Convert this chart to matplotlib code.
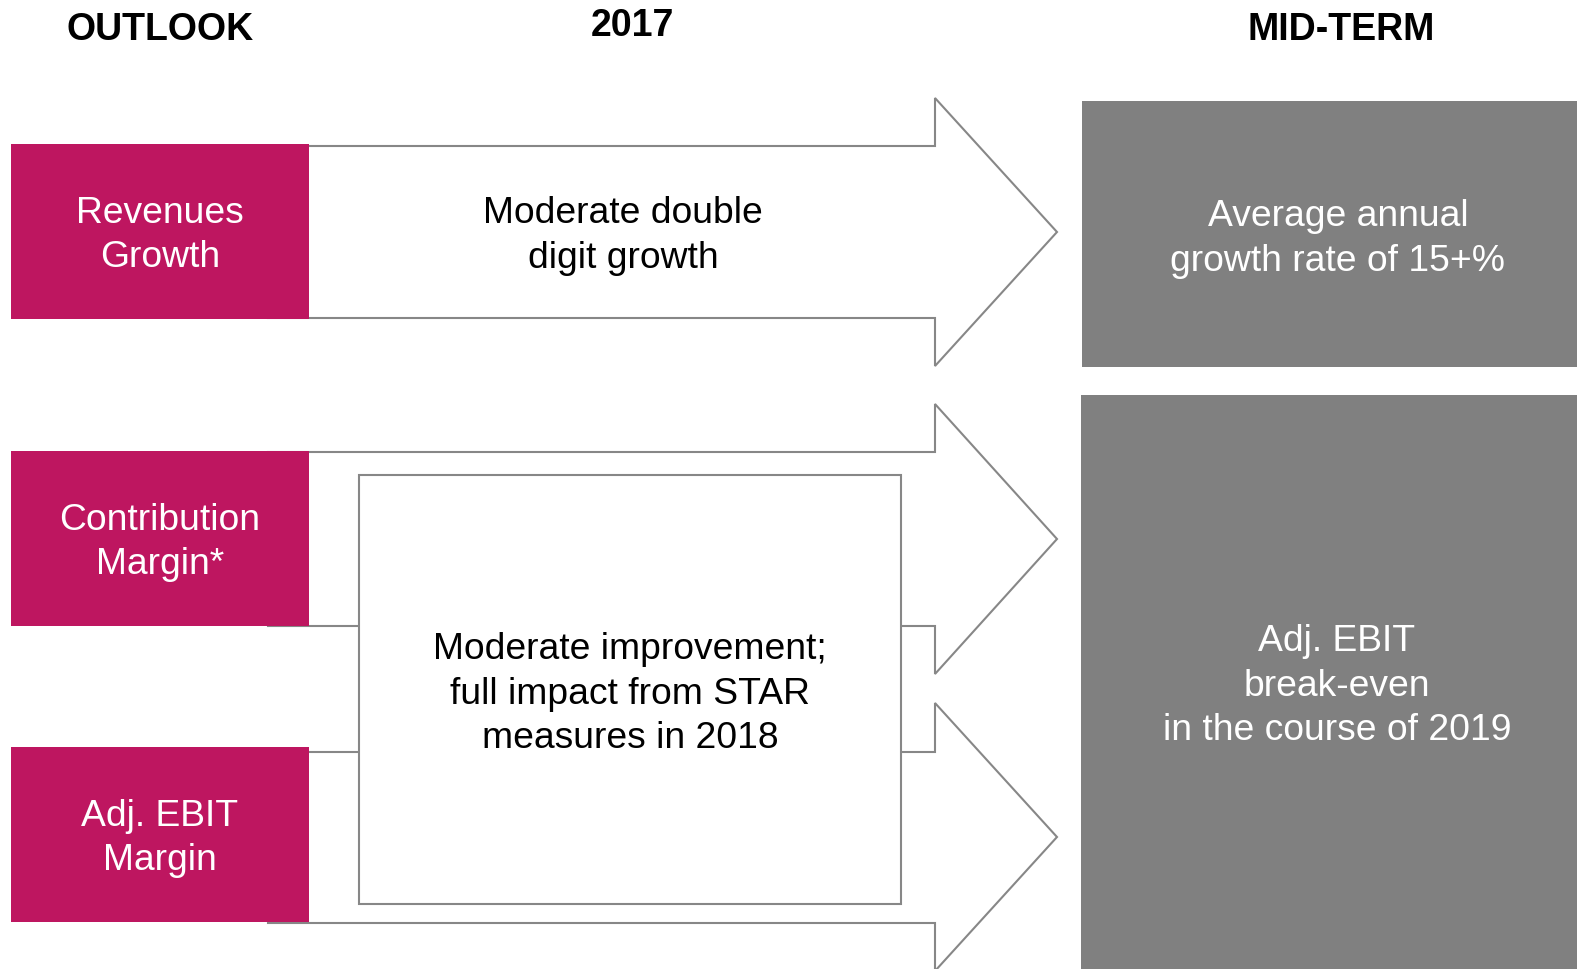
import matplotlib
matplotlib.use("Agg")
import matplotlib.pyplot as plt
from matplotlib.patches import Polygon, Rectangle

# texts of the diagram
headers = ["OUTLOOK", "2017", "MID-TERM"]
kpis = ["Revenues\nGrowth", "Contribution\nMargin*", "Adj. EBIT\nMargin"]
outlook_2017 = ["Moderate double\ndigit growth",
                "Moderate improvement;\nfull impact from STAR\nmeasures in 2018"]
mid_term = ["Average annual\ngrowth rate of 15+%",
            "Adj. EBIT\nbreak-even\nin the course of 2019"]

MAGENTA = "#BE1660"
GREY = "#808080"
EDGE = "#878787"

plt.rcParams['font.family'] = ['Liberation Sans', 'DejaVu Sans']

W, H = 1577, 969
fig = plt.figure(figsize=(W / 100, H / 100), dpi=100)
ax = fig.add_axes([0, 0, 1, 1])
ax.set_xlim(0, W)
ax.set_ylim(H, 0)
ax.axis("off")

FS = 26.8
LS = 1.36
DY = 3  # small downward nudge of the body text


def arrow(y_top, y_bot, head_top, head_bot, x0=268, x_head=935, x_tip=1057):
    ymid = (head_top + head_bot) / 2
    pts = [(x0, y_top), (x_head, y_top), (x_head, head_top), (x_tip, ymid),
           (x_head, head_bot), (x_head, y_bot), (x0, y_bot)]
    ax.add_patch(Polygon(pts, closed=True, fc="white", ec=EDGE, lw=1.5, zorder=1))


# three arrows, one per row
arrow(146, 318, 98, 366)
arrow(452, 626, 404, 674)
arrow(752, 923, 703, 971)

# magenta KPI boxes
box_rows = [(144, 319), (451, 626), (747, 922)]
for (y0, y1), lab in zip(box_rows, kpis):
    ax.add_patch(Rectangle((11, y0), 298, y1 - y0, fc=MAGENTA, ec="none", zorder=2))
    ax.text(160, (y0 + y1) / 2 + 1 + DY, lab, color="white", fontsize=FS, ha="center",
            va="center", multialignment="center", linespacing=LS, zorder=3)

# 2017 texts
ax.text(623, 233 + DY, outlook_2017[0], color="black", fontsize=FS, ha="center",
        va="center", multialignment="center", linespacing=LS, zorder=3)
ax.add_patch(Rectangle((359, 475), 542, 429, fc="white", ec=EDGE, lw=1.5, zorder=2))
ax.text(630, 691 + DY, outlook_2017[1], color="black", fontsize=FS, ha="center",
        va="center", multialignment="center", linespacing=LS, zorder=3)

# grey mid-term boxes
ax.add_patch(Rectangle((1082, 101), 500, 266, fc=GREY, ec="none", zorder=2))
ax.text(1338, 236 + DY, mid_term[0], color="white", fontsize=FS, ha="center",
        va="center", multialignment="center", linespacing=LS, zorder=3)
ax.add_patch(Rectangle((1081, 395), 500, 580, fc=GREY, ec="none", zorder=2))
ax.text(1337, 683 + DY, mid_term[1], color="white", fontsize=FS, ha="center",
        va="center", multialignment="center", linespacing=LS, zorder=3)

# headers
for x, y, h in zip([160, 632, 1341], [30, 26, 30], headers):
    ax.text(x, y, h, fontsize=27, fontweight="bold", ha="center", va="center", zorder=3)

fig.savefig("out.png", dpi=100)
